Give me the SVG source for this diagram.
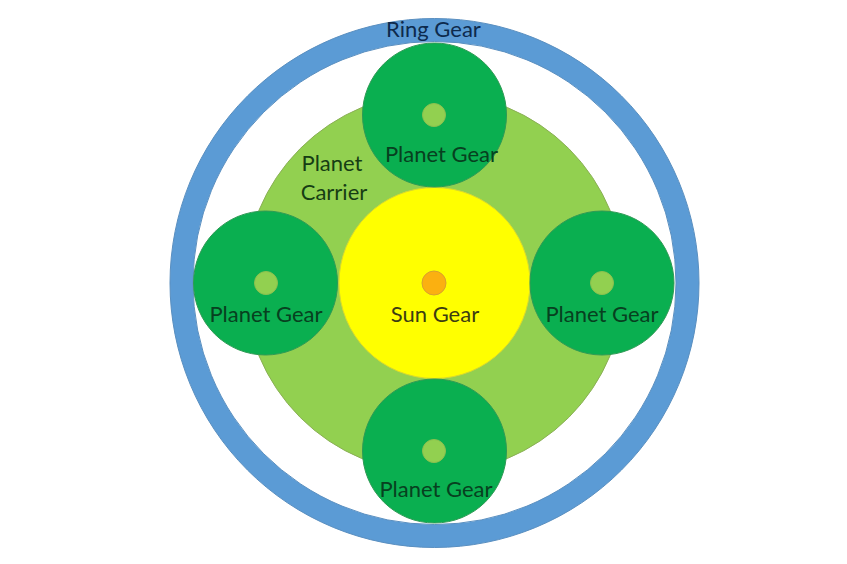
<svg xmlns="http://www.w3.org/2000/svg" width="847" height="564" viewBox="0 0 847 564">
<style>
text{font-family:Lato,"Liberation Sans",sans-serif;font-size:22px;text-anchor:middle}
.on-planet{fill:#07401f}
.on-carrier{fill:#163d14}
.planet{fill:#0aaf50;stroke:#2f9a55;stroke-width:1}
.hub{fill:#92d050;stroke:#8cc04e;stroke-width:1}
</style>
<rect width="847" height="564" fill="#ffffff"/>
<g id="ring-gear"><circle cx="434.500" cy="283" r="253" fill="none" stroke="#5b9bd5" stroke-width="23"/><circle cx="434.500" cy="283" r="264.500" fill="none" stroke="#5a8fc0" stroke-width="1"/><circle cx="434.500" cy="283" r="241.500" fill="none" stroke="#5a8fc0" stroke-width="1"/></g>
<g id="planet-carrier"><circle cx="434.500" cy="283" r="190" fill="#92d050" stroke="#8aaf55"/><text class="on-carrier" x="332" y="171">Planet</text><text class="on-carrier" x="334" y="200">Carrier</text></g>
<g id="sun-gear"><circle cx="434.500" cy="283" r="95.500" fill="#ffff00" stroke="#d8d830"/><circle cx="434" cy="283" r="12" fill="#fbb010" stroke="#d9a030"/><text x="435" y="322" fill="#3c3c12">Sun Gear</text></g>
<g id="planet-top"><circle class="planet" cx="434.500" cy="115" r="72"/><circle class="hub" cx="434" cy="115" r="11.500"/><text class="on-planet" x="441.500" y="162">Planet Gear</text></g>
<g id="planet-left"><circle class="planet" cx="265.500" cy="283" r="72"/><circle class="hub" cx="266" cy="283" r="11.500"/><text class="on-planet" x="266" y="322">Planet Gear</text></g>
<g id="planet-right"><circle class="planet" cx="602" cy="283" r="72"/><circle class="hub" cx="602" cy="283" r="11.500"/><text class="on-planet" x="602" y="322">Planet Gear</text></g>
<g id="planet-bottom"><circle class="planet" cx="434.500" cy="451" r="72"/><circle class="hub" cx="434" cy="451" r="11.500"/><text class="on-planet" x="436" y="497">Planet Gear</text></g>
<text id="ring-gear-label" x="433.500" y="37" fill="#0d2a4d">Ring Gear</text>
</svg>
